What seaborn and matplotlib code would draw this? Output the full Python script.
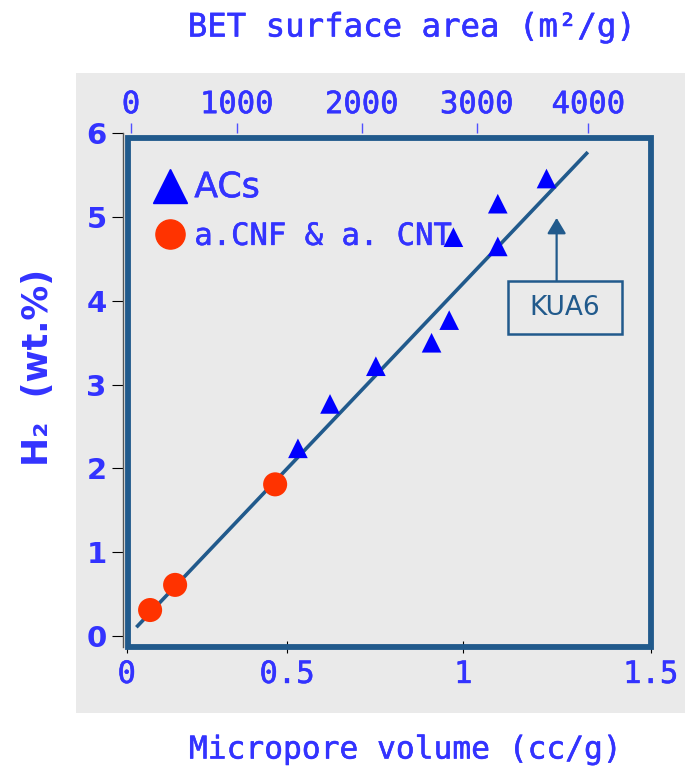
import numpy as np
import pandas as pd
import matplotlib
matplotlib.use("Agg")
import matplotlib.pyplot as plt
import matplotlib.patheffects as pe
from matplotlib.lines import Line2D
from matplotlib.patches import Rectangle
import seaborn as sns

# data
ac_volume = [0.531, 0.622, 0.752, 0.910, 0.960, 0.972, 1.092, 1.092, 1.222]
ac_h2 = [2.24, 2.77, 3.22, 3.50, 3.77, 4.76, 4.65, 5.16, 5.46]
cnf_volume = [0.073, 0.151, 0.463]
cnf_h2 = [0.31, 0.61, 1.81]
fit_volume = [0.034, 1.329]
fit_h2 = [0.12, 5.76]
groups = ["ACs", "a.CNF & a. CNT"]

vol_ticks = [0, 0.5, 1, 1.5]
vol_tick_labels = ["0", "0.5", "1", "1.5"]
bet_ticks = [0, 1000, 2000, 3000, 4000]
h2_ticks = [0, 1, 2, 3, 4, 5, 6]

# the hand drawn axes are not evenly spaced -> piecewise linear scales
vol_knots = [-0.1, 0, 0.5, 1, 1.5, 1.6]
vol_px = [94.6, 126.7, 287, 463.3, 650.7, 688.2]
bet_knots = [-1000, 0, 1000, 2000, 3000, 4000, 5000]
bet_px = [25.3, 131, 236.7, 361.7, 476.7, 588.3, 699.9]

TXT = "#3333ff"
DARK = "#215a8c"
heavy = [pe.withStroke(linewidth=0.4, foreground=TXT)]

df = pd.DataFrame({
    "volume": ac_volume + cnf_volume,
    "h2": ac_h2 + cnf_h2,
    "group": [groups[0]] * len(ac_volume) + [groups[1]] * len(cnf_volume),
})

fig = plt.figure(figsize=(6.89, 7.71), dpi=100)
W, H = 689, 771
fig.patches.append(Rectangle((76 / W, 1 - 713 / H), (685 - 76) / W, (713 - 73) / H,
                             transform=fig.transFigure, fc="#eaeaea", ec="none", zorder=-10))

ax = fig.add_axes([123.5 / W, 1 - 647 / H, (650.7 - 123.5) / W, (647 - 133.3) / H])
ax.set_facecolor("none")
ax.set_xscale("function", functions=(lambda v: np.interp(v, vol_knots, vol_px),
                                     lambda p: np.interp(p, vol_px, vol_knots)))
ax.set_xlim(np.interp(123.5, vol_px, vol_knots), 1.5)
ax.set_ylim(-(647 - 636) / 83.78, 6)

sns.lineplot(x=fit_volume, y=fit_h2, ax=ax, color=DARK, lw=2.6, zorder=3)
sns.scatterplot(data=df, x="volume", y="h2", hue="group", style="group",
                palette={groups[0]: "#0000ff", groups[1]: "#ff3300"},
                markers={groups[0]: "^", groups[1]: "o"},
                size="group", sizes={groups[0]: 200, groups[1]: 300},
                linewidth=0, ax=ax, legend=False, zorder=4)

# thick outer frame
ax.add_patch(Rectangle((128 / W, 1 - 647 / H), (650.7 - 128) / W, (647 - 137.7) / H,
                       transform=fig.transFigure, fill=False, ec=DARK, lw=4.2,
                       clip_on=False, zorder=2))

for s in ["top", "right", "bottom"]:
    ax.spines[s].set_visible(False)
ax.spines["left"].set_color("#555555")
ax.spines["left"].set_linewidth(1)

ax.set_xticks(vol_ticks)
ax.set_xticklabels(vol_tick_labels, family="DejaVu Sans Mono", fontsize=22, color=TXT,
                   path_effects=heavy)
ax.tick_params(axis="x", direction="inout", length=8.6, width=0.8, color="black", pad=5)
ax.set_yticks(h2_ticks)
ax.set_yticklabels([str(t) for t in h2_ticks], family="DejaVu Sans", fontweight="bold",
                   fontsize=21, color=TXT)
ax.tick_params(axis="y", direction="out", length=8, width=0.8, color="black", pad=4)

ax.set_xlabel("Micropore volume (cc/g)", family="DejaVu Sans Mono", fontsize=22.5,
              color=TXT, va="center", path_effects=heavy)
ax.xaxis.set_label_coords((406 - 123.5) / 527.2, (647 - 750) / 513.7)
ax.set_ylabel("H\u2082  (wt.%)", family="DejaVu Sans", fontweight="bold", fontsize=25,
              color=TXT, va="center")
ax.yaxis.set_label_coords((38 - 123.5) / 527.2, (647 - 367) / 513.7)

# top axis: BET surface area
ax2 = ax.twiny()
ax2.set_xscale("function", functions=(lambda v: np.interp(v, bet_knots, bet_px),
                                      lambda p: np.interp(p, bet_px, bet_knots)))
ax2.set_xlim(np.interp(123.5, bet_px, bet_knots), np.interp(650.7, bet_px, bet_knots))
for s in ["top", "right", "bottom", "left"]:
    ax2.spines[s].set_visible(False)
ax2.set_xticks(bet_ticks)
ax2.set_xticklabels([str(t) for t in bet_ticks], family="DejaVu Sans Mono", fontsize=22,
                    color=TXT, path_effects=heavy)
ax2.tick_params(axis="x", direction="out", length=7.2, width=1, color="#5050ff", pad=3)
ax2.set_xlabel("BET surface area (m\u00b2/g)", family="DejaVu Sans Mono", fontsize=23.3,
               color=TXT, va="center", path_effects=heavy)
ax2.xaxis.set_label_coords((412 - 123.5) / 527.2, (647 - 28) / 513.7)

# legend
handles = [Line2D([], [], ls="", marker="^", color="#0000ff", ms=25),
           Line2D([], [], ls="", marker="o", color="#ff3300", ms=21)]
leg = ax.legend(handles, groups, loc="upper left", bbox_to_anchor=(0.03, 0.958),
                frameon=False, borderpad=0, handlelength=1.0, handletextpad=0.3,
                labelspacing=0.58, prop={"family": "DejaVu Sans Mono", "size": 22})
leg.get_texts()[0].set_fontfamily("DejaVu Sans")
leg.get_texts()[0].set_fontsize(25)
for t in leg.get_texts():
    t.set_color(TXT)
    t.set_path_effects(heavy)

# KUA6 callout: box, label and arrow
ax.add_patch(Rectangle((508.3 / W, 1 - 334 / H), (621.7 - 508.3) / W, (334 - 280.7) / H,
                       transform=fig.transFigure, fill=False, ec=DARK, lw=1.8,
                       clip_on=False, zorder=3))
ax.text(1.271, 3.92, "KUA6", ha="center", va="center", fontsize=19,
        family="DejaVu Sans", color=DARK)
ax.annotate("", xy=(1.249, 4.99), xytext=(1.249, 4.241),
            arrowprops=dict(arrowstyle="-|>,head_length=0.5,head_width=0.3", color=DARK,
                            lw=1.6, shrinkA=0, shrinkB=0, mutation_scale=19))

fig.savefig("out.png", dpi=100)
